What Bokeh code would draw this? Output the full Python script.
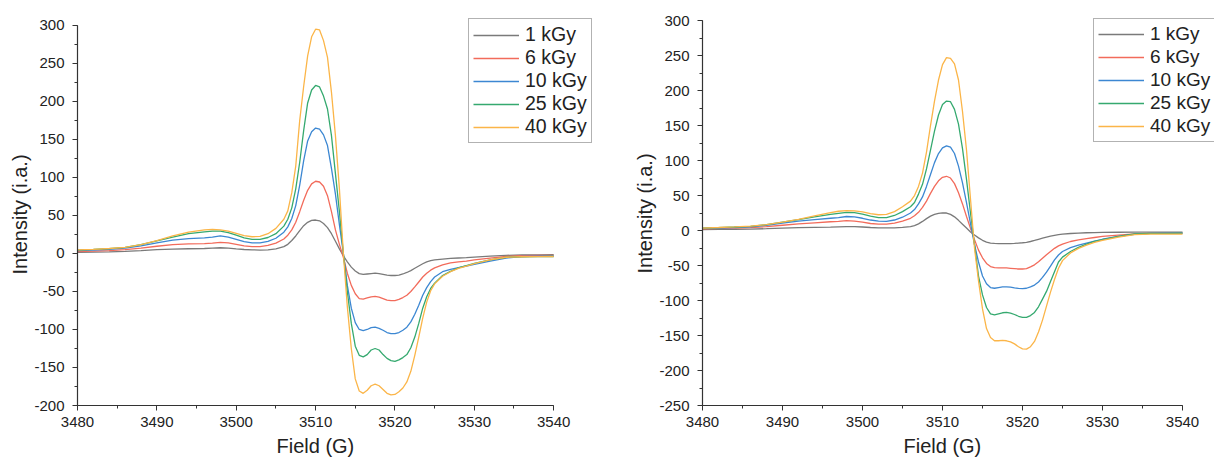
from bokeh.plotting import figure
from bokeh.layouts import row
from bokeh.models import (Range1d, SingleIntervalTicker, Legend, LegendItem, Title,
                          CustomJSTickFormatter)
from bokeh.embed import file_html
from bokeh.resources import INLINE

field = [3480, 3482, 3484, 3486, 3488, 3490, 3492, 3494, 3496, 3497, 3498, 3499, 3500, 3501,
         3502, 3503, 3504, 3505, 3506, 3506.5, 3507, 3507.5, 3508, 3508.5, 3509, 3509.5, 3510,
         3510.5, 3511, 3511.5, 3512, 3512.5, 3513, 3513.5, 3514, 3514.5, 3515, 3515.5, 3516,
         3516.5, 3517, 3517.5, 3518, 3518.5, 3519, 3519.5, 3520, 3520.5, 3521, 3521.5, 3522,
         3522.5, 3523, 3523.5, 3524, 3524.5, 3525, 3526, 3527, 3528, 3529, 3530, 3532, 3534,
         3536, 3538, 3540]

labels = ["1 kGy", "6 kGy", "10 kGy", "25 kGy", "40 kGy"]

# ---- left panel ----
left_1kGy = [1.5, 1.8, 2.2, 2.8, 3.8, 5, 5.8, 6.2, 6.5, 7, 7.5, 7, 6, 5.2,
             4.7, 4.5, 4.7, 6, 9, 12, 17, 23, 30, 36.5, 41, 43.5, 44,
             43, 39.5, 34, 26, 16, 6, -3, -11, -18, -23, -26.5, -27.5,
             -27, -26.5, -26, -26.5, -27.5, -28.5, -29, -29, -28.5, -27, -25, -22.5,
             -19.5, -16.5, -13.5, -11, -9.5, -8.5, -7.5, -6.5, -6, -5.5, -4.8, -3.5, -2.5,
             -2, -1.8, -1.5]
left_6kGy = [2.5, 3, 3.8, 5, 7, 9.5, 11.5, 12.5, 13, 13.5, 14.5, 14, 12, 10,
             9, 9, 10.5, 13.5, 19, 24, 31, 41, 55, 70, 83, 91.5, 95,
             94, 88.5, 76, 55, 31, 12, -5, -26, -42, -53, -59.5, -60,
             -58.5, -57, -56.5, -57.5, -59.5, -61.5, -62, -62, -60.5, -58, -55, -50,
             -44, -37.5, -31, -26, -22, -19, -15, -12.5, -11, -10, -8.5, -6, -3.8,
             -3, -2.6, -2.4]
left_10kGy = [3.8, 4.5, 5.5, 7, 10, 14, 17.5, 19.5, 20.5, 21.5, 23, 21.5, 18.5, 15.5,
              14, 14, 16, 20, 28, 35, 46, 63, 90, 122, 148, 160, 165,
              163.5, 156, 142, 112, 78, 38, 0, -42, -72, -91, -100, -101.5,
              -100, -97.5, -97, -98.5, -101, -104, -105.5, -105.5, -104, -101, -97, -90,
              -80, -68, -55, -45, -37, -31, -24, -21, -18.5, -16.5, -14.5, -10, -6,
              -4, -3.5, -3.3]
left_25kGy = [4.5, 5.3, 6.3, 8, 11.5, 16.5, 21.5, 26, 28.5, 29.5, 29.5, 27.5, 24, 20.5,
              18.5, 18.5, 21, 26, 36, 45, 60, 85, 120, 162, 198, 215, 221,
              219, 207, 190, 155, 105, 55, 0, -50, -92, -122, -134, -136,
              -133, -127, -125, -127, -133, -138, -141, -142, -140, -137, -133, -124,
              -110, -92, -72, -57, -46, -39, -29, -23.5, -19, -16, -13, -8.5, -5,
              -4.3, -4.1, -4]
left_40kGy = [4.6, 5.5, 6.5, 8, 11.5, 17, 23, 28, 31, 31.7, 31, 29.5, 26.5, 23.5,
              22, 22.5, 26, 33, 45, 56, 80, 115, 175, 220, 260, 285, 295,
              294, 280, 258, 212, 155, 85, 0, -70, -125, -165, -181, -184,
              -180, -174, -172, -174, -179, -184, -186, -185.5, -182, -177, -169, -155,
              -134, -110, -85, -64, -49, -40, -30, -24, -19.5, -16.5, -13.5, -8.5, -5,
              -4.3, -4.1, -4]

# ---- right panel ----
right_1kGy = [1.4, 1.6, 1.8, 2.1, 2.6, 3.3, 4, 4.5, 4.8, 5.2, 5.6, 5.5, 5, 4.3,
              3.8, 3.7, 3.8, 4.5, 5.5, 7, 9.5, 13, 17, 20.5, 23, 24.5, 25.2,
              25, 23, 19.5, 14.5, 9, 3.5, -2, -6.5, -10.5, -14, -16.5, -18,
              -18.5, -18.6, -18.6, -18.6, -18.6, -18.5, -18, -17.5, -16.8, -15.7, -14.2, -12.5,
              -11, -9.5, -8, -6.8, -5.8, -5.2, -4.3, -3.6, -3.2, -2.9, -2.7, -2.5, -2.4,
              -2.3, -2.3, -2.3]
right_6kGy = [2.5, 3, 3.5, 4.2, 5.5, 7.5, 9.5, 11, 12.5, 13.2, 14, 13.5, 12, 10,
              9, 9, 10.5, 13.5, 17.5, 21, 26, 33, 42, 53, 63, 71, 76,
              77.5, 75, 67, 54, 38, 20, 3, -13, -28, -39, -47, -51.5,
              -53, -53.5, -53.5, -53.5, -54, -54.5, -55, -55, -54.5, -52, -49, -44.5,
              -39.5, -34.5, -30, -25.5, -22, -19.5, -15.7, -13.5, -11.5, -10, -8.5, -6.5, -4.8,
              -4, -3.8, -3.8]
right_10kGy = [3, 3.6, 4.3, 5.2, 7.5, 10.5, 13.5, 15.5, 17.5, 18.5, 20, 19.5, 17.5, 15,
               13.5, 13, 15, 19, 25, 30, 38, 48, 63, 80, 97, 110, 118,
               121, 119, 110, 92, 68, 40, 10, -20, -45, -65, -76, -81.5,
               -82.5, -81.5, -80.5, -80.5, -81, -82, -82.8, -83, -82.5, -80.5, -78, -73.5,
               -67, -59.5, -51, -42, -35, -30, -24.5, -21, -18, -15, -12.5, -8.5, -5.5,
               -4.2, -3.9, -3.8]
right_25kGy = [3.3, 4.2, 5, 6, 8.5, 12, 15.5, 19.5, 23, 24.5, 26, 25.5, 23.5, 20.5,
               18.5, 18.5, 21.5, 27, 34, 40, 52, 66, 88, 115, 142, 165, 180,
               185, 184, 173, 152, 117, 73, 25, -20, -65, -92, -110, -119,
               -120.5, -119, -117.5, -117, -118, -120, -122.5, -124, -124, -121.5, -117, -109,
               -98, -87, -73, -59, -45, -38, -30, -24, -19.5, -15.5, -13, -8.5, -5,
               -4.2, -4, -3.8]
right_40kGy = [3.5, 4.3, 5.2, 6.2, 8.5, 12, 16, 21, 25.5, 27.5, 28.5, 28, 26.5, 24,
               22.5, 23, 27, 34, 42, 50, 63, 82, 112, 150, 185, 215, 237,
               247, 246, 238, 215, 170, 115, 45, -25, -72, -112, -140, -153,
               -157.5, -157.5, -157, -157.5, -159, -162, -166, -169, -169.5, -166, -158.5, -145,
               -128, -108, -88, -70, -54, -43, -32, -25.5, -21, -17, -14, -9.5, -5.8,
               -5.3, -5.2, -5.2]

colors = ["#7a7a7a", "#f26b5b", "#3c87d2", "#35a96f", "#fbb548"]

left_series = [left_1kGy, left_6kGy, left_10kGy, left_25kGy, left_40kGy]
right_series = [right_1kGy, right_6kGy, right_10kGy, right_25kGy, right_40kGy]

FONT = "Liberation Sans"
TXT = "#222222"


def make_panel(series, y0, y1, xr_end, yr_end, width, bl, br, bt, bb,
               legend_xy, legend_fs, legend_spacing, xoff, yoff):
    p = figure(width=width, height=460, output_backend="svg", toolbar_location=None,
               x_range=Range1d(3480, xr_end), y_range=Range1d(y0, yr_end),
               min_border_left=bl, min_border_right=br, min_border_top=bt,
               min_border_bottom=bb)
    p.outline_line_color = None
    p.xgrid.visible = False
    p.ygrid.visible = False
    p.background_fill_color = "white"
    p.border_fill_color = "white"
    items = []
    for lab, ys, c in zip(labels, series, colors):
        r = p.line(field, ys, line_color=c, line_width=1.3)
        items.append(LegendItem(label=lab, renderers=[r]))
    p.xaxis.ticker = SingleIntervalTicker(interval=10, num_minor_ticks=2)
    p.yaxis.ticker = SingleIntervalTicker(interval=50, num_minor_ticks=2)
    p.xaxis.bounds = (3480, 3540)
    p.yaxis.bounds = (y0, y1)
    fmt = "return tick.toString();"
    p.xaxis.formatter = CustomJSTickFormatter(code=fmt)
    p.yaxis.formatter = CustomJSTickFormatter(code=fmt)
    for ax in (p.xaxis[0], p.yaxis[0]):
        ax.axis_line_color = "#333333"
        ax.axis_line_width = 1.2
        ax.major_tick_line_color = "#333333"
        ax.minor_tick_line_color = "#333333"
        ax.major_tick_in = 0
        ax.major_tick_out = 5
        ax.minor_tick_in = 0
        ax.minor_tick_out = 3
        ax.major_label_text_font = FONT
        ax.major_label_text_font_size = "15px"
        ax.major_label_text_color = TXT
    p.xaxis.major_label_standoff = 6
    p.yaxis.major_label_standoff = 8

    xt = Title(text="Field (G)", align="left", offset=xoff, standoff=6,
               text_font=FONT, text_font_size="20px", text_font_style="normal",
               text_color=TXT)
    p.add_layout(xt, "below")
    yt = Title(text="Intensity (i.a.)", align="left", offset=yoff, standoff=2,
               text_font=FONT, text_font_size="20px", text_font_style="normal",
               text_color=TXT)
    p.add_layout(yt, "left")

    leg = Legend(items=items, location=legend_xy, orientation="vertical")
    leg.label_text_font = FONT
    leg.label_text_font_size = legend_fs
    leg.label_text_color = TXT
    leg.glyph_width = 46
    leg.glyph_height = 20
    leg.label_height = 20
    leg.label_standoff = 6
    leg.spacing = legend_spacing
    leg.padding = 4
    leg.margin = 0
    leg.border_line_color = "#666666"
    leg.border_line_width = 1
    leg.background_fill_alpha = 1
    p.add_layout(leg, "center")
    return p


p1 = make_panel(left_series, -200, 300, 3545.9, 327.5, 610, 77, 10, 4, 53,
                (391, 262), "19.5px", 0, 199, 131)
p2 = make_panel(right_series, -250, 300, 3544.0, 322.9, 605, 92, 1, 4, 55,
                (391, 263), "19px", 1, 201, 132)

layout = row(p1, p2)
open("out.html", "w").write(file_html(layout, INLINE))
